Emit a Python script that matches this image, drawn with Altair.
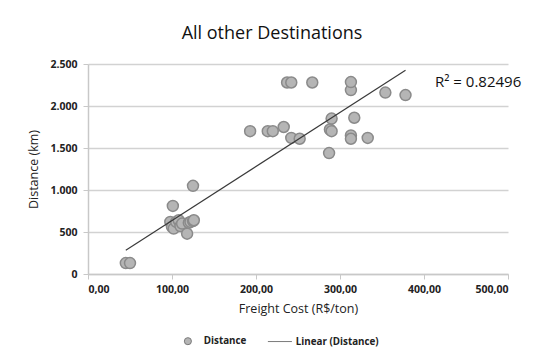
import altair as alt
import pandas as pd

cost = [45, 50, 98, 100, 102, 105, 108, 110, 112, 118, 120, 122, 125, 126, 101, 125,
        193, 214, 220, 233, 242, 252, 237, 242, 267, 287, 288, 290, 290, 313, 313, 317,
        333, 313, 313, 354, 378]
dist = [130, 130, 620, 560, 540, 620, 640, 570, 600, 480, 610, 620, 630, 640, 810, 1050,
        1700, 1700, 1700, 1750, 1620, 1610, 2280, 2280, 2280, 1440, 1720, 1700, 1850, 1650,
        1610, 1860, 1620, 2190, 2285, 2160, 2130]
series = ["Distance", "Linear (Distance)"]
x_ticks = [0, 100, 200, 300, 400, 500]
y_ticks = [0, 500, 1000, 1500, 2000, 2500]
r2_label = "R² = 0.82496"

df = pd.DataFrame({"cost": cost, "dist": dist, "series": series[0]})

FONT = "Open Sans"

xs = alt.Scale(domain=[0, 500], nice=False)
ys = alt.Scale(domain=[0, 2500], nice=False)
color_scale = alt.Scale(domain=series, range=["#b5b5b5", "#3a3a3a"])
shape_scale = alt.Scale(domain=series, range=["circle", "M-3.4,0L3.4,0"])

legend = alt.Legend(title=None, orient="none", legendX=95, legendY=272, direction="horizontal",
                    labelFont=FONT, labelFontSize=9.8, labelColor="#222", symbolSize=50,
                    symbolStrokeColor="#7a7a7a", symbolStrokeWidth=1, columnPadding=18,
                    labelOffset=11, labelFontWeight="bold")

points = alt.Chart(df).mark_point(filled=True, size=120, stroke="#8a8a8a", strokeWidth=1.5,
                                  opacity=1).encode(
    x=alt.X("cost:Q", scale=xs, title="Freight Cost (R$/ton)",
            axis=alt.Axis(values=x_ticks, grid=False,
                          labelExpr="replace(format(datum.value, '.2f'), '.', ',')")),
    y=alt.Y("dist:Q", scale=ys, title="Distance (km)",
            axis=alt.Axis(values=y_ticks, grid=True,
                          labelExpr="replace(format(datum.value, ','), ',', '.')")),
    color=alt.Color("series:N", scale=color_scale, legend=legend),
    shape=alt.Shape("series:N", scale=shape_scale, legend=legend),
)

trend = alt.Chart(df).transform_regression("cost", "dist").mark_line(
    color="#3a3a3a", strokeWidth=1.2).encode(
    x=alt.X("cost:Q", scale=xs),
    y=alt.Y("dist:Q", scale=ys),
)

r2 = alt.Chart(pd.DataFrame({"t": [r2_label]})).mark_text(
    font=FONT, fontSize=15, color="#111", align="left", baseline="middle").encode(
    x=alt.value(347), y=alt.value(18), text="t:N")

chart = alt.layer(points, trend, r2).properties(
    width=420, height=210,
    autosize=alt.AutoSizeParams(type="none"),
    padding={"left": 80, "top": 56, "right": 23, "bottom": 77},
    title=alt.TitleParams("All other Destinations", font=FONT, fontSize=18, fontWeight="normal",
                          color="#111", anchor="middle", dx=-26, offset=16),
    background="white",
).configure_view(stroke=None).configure_axis(
    labelFont=FONT, labelFontSize=10.5, labelColor="#222", labelFontWeight="bold",
    titleFont=FONT, titleFontSize=12.5, titleFontWeight="normal", titleColor="#222",
    domainColor="#c8c8c8", domainWidth=1.5, tickColor="#c8c8c8", tickSize=5,
    gridColor="#d2d2d2", gridWidth=1.5,
).configure_axisX(labelPadding=5, titlePadding=8).configure_axisY(labelPadding=6, titlePadding=9)

chart.save("out.html", embed_options={"renderer": "svg", "actions": False})
